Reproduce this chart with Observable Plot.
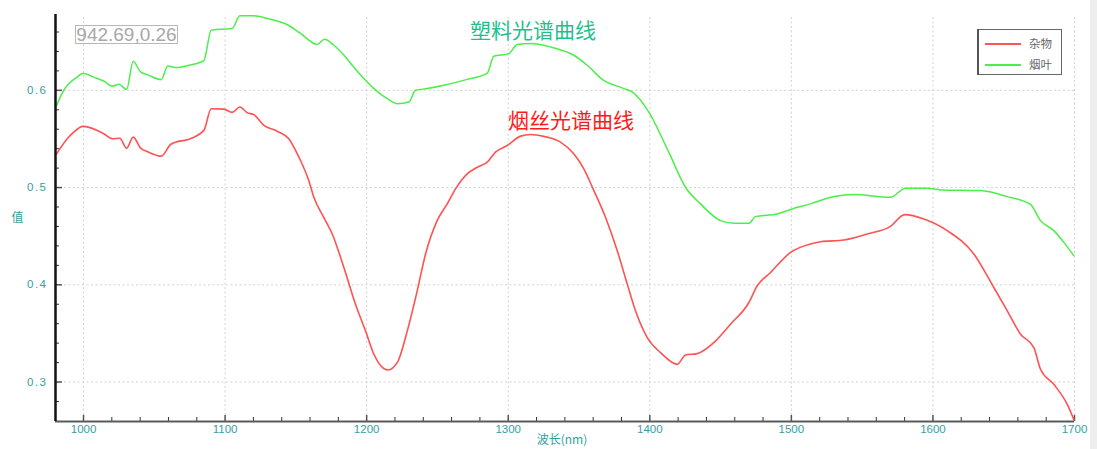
<!DOCTYPE html>
<html>
<head>
<meta charset="utf-8">
<script src="https://cdn.jsdelivr.net/npm/d3@7"></script>
<script src="https://cdn.jsdelivr.net/npm/@observablehq/plot@0.6"></script>
<style>
  html, body { margin: 0; padding: 0; background: #fff; }
  #wrap { position: relative; width: 1097px; height: 449px; overflow: hidden; background: #fff; }
  #wrap svg g[aria-label="y-axis tick label"] text { letter-spacing: 1.5px; }
  .readout { position: absolute; left: 75px; top: 25px; width: 101px; height: 17px; border: 1.5px solid #b8b8b8;
    font: 19px "Liberation Sans", Arial, sans-serif; color: #a8a8a8; line-height: 17px; text-align: center; white-space: nowrap; }
  .legend { position: absolute; left: 977px; top: 29px; width: 82px; height: 44px; border: 1.5px solid #666; border-left: 2.5px solid #555;
    font: 11.5px "Noto Sans CJK SC", sans-serif; color: #666; }
  .legend .row { position: absolute; left: 6px; height: 14px; }
  .legend .sw { position: absolute; left: 0; top: 6px; width: 36px; height: 1.5px; }
  .legend .lb { position: absolute; left: 44px; top: -2px; white-space: nowrap; }
  .strip { position: absolute; left: 1090px; top: 0; width: 7px; height: 449px; background: #eeeeee; }
</style>
</head>
<body>
<div id="wrap"></div>
<script>
// ---- data ----
const seriesNames = ["杂物", "烟叶"];
const seriesColors = ["#ff5252", "#4cee4c"];

const redNm = [981,988.5,993.1,999.5,1009.7,1014.3,1020.3,1025.6,1030.4,1035.1,1040.3,1046.1,1054.9,1061.5,1065,1073.2,1085,1090.2,1099.1,1105,1110.4,1115.6,1120.3,1127.4,1136.8,1145,1151,1153.3,1159.1,1162.7,1169.7,1175.7,1183.9,1192.1,1199.2,1205.1,1215,1221.6,1228.7,1235.7,1241.6,1249.8,1256.9,1262.8,1271,1278.1,1285.2,1291,1299.3,1308.7,1315.7,1327.5,1336.9,1346.3,1353.4,1360.5,1368.7,1377,1384.1,1389.9,1398.2,1407.6,1419.4,1425.2,1433.5,1445.2,1457,1470,1475.9,1485.3,1499.4,1513.5,1520.6,1537.1,1553.6,1570,1580,1593.6,1610.1,1628.9,1643,1652.5,1661.9,1671.3,1676,1685.4,1694.9,1699.5];
const redVal = [0.5347,0.5502,0.557,0.5629,0.5588,0.5554,0.5502,0.5508,0.5405,0.5519,0.5405,0.5364,0.5323,0.5443,0.5467,0.5492,0.5588,0.5811,0.5807,0.5773,0.5828,0.577,0.575,0.5639,0.558,0.5502,0.5347,0.5278,0.5072,0.49,0.4694,0.4523,0.4178,0.3801,0.3526,0.3286,0.3124,0.3199,0.3526,0.3938,0.4317,0.466,0.4832,0.4987,0.5141,0.5209,0.5261,0.5364,0.5433,0.5529,0.5546,0.5519,0.5467,0.5347,0.5193,0.4969,0.4694,0.4351,0.4007,0.3732,0.3457,0.3302,0.3182,0.3278,0.3292,0.3405,0.3595,0.3818,0.399,0.4127,0.4333,0.442,0.4443,0.4461,0.4523,0.4601,0.4722,0.4677,0.4557,0.4317,0.3972,0.3732,0.3492,0.3354,0.3131,0.2976,0.277,0.2615];

const greenNm = [981,986,995.5,999.5,1009.7,1014.3,1020.3,1024.9,1030.4,1035.1,1040.3,1045,1054.9,1059.5,1065,1074.4,1085,1090.2,1105,1110.4,1120.3,1129.8,1145,1153.3,1165.1,1170.2,1176.8,1185.1,1189.8,1198,1205.1,1214.5,1221.6,1229.8,1234.5,1242.8,1254.5,1271,1285.2,1289.8,1300.4,1306.4,1315.7,1325.2,1329.9,1346.3,1355.8,1366.4,1381.7,1387.6,1399.3,1413.4,1425.2,1435.8,1450,1459.4,1470,1474.7,1490,1504.1,1513.5,1525.3,1544.1,1570,1580.6,1596,1605.4,1633.6,1652.5,1669,1676,1685.4,1692.5,1699.5];
const greenVal = [0.5845,0.600,0.6137,0.6172,0.6121,0.6096,0.6044,0.6062,0.601,0.630,0.6189,0.6162,0.611,0.625,0.6234,0.6258,0.6306,0.6619,0.6636,0.6766,0.6766,0.6739,0.6667,0.6585,0.6471,0.6526,0.6464,0.6343,0.6258,0.6121,0.6018,0.5914,0.5863,0.588,0.600,0.6018,0.6052,0.6113,0.6178,0.635,0.6378,0.6471,0.6481,0.6464,0.6446,0.6361,0.6258,0.6113,0.6018,0.5983,0.5776,0.5364,0.5003,0.4832,0.466,0.4632,0.4632,0.4701,0.4729,0.4797,0.4832,0.489,0.4928,0.49,0.4993,0.4993,0.4976,0.4969,0.4907,0.4825,0.466,0.4557,0.4436,0.4299];

const xDomain = [980.2, 1700];
const yDomain = [0.2594, 0.678];
const xMajor = [1000, 1100, 1200, 1300, 1400, 1500, 1600, 1700];
const xMinor = [1020,1040,1060,1080,1120,1140,1160,1180,1220,1240,1260,1280,1320,1340,1360,1380,1420,1440,1460,1480,1520,1540,1560,1580,1620,1640,1660,1680];
const yMajor = [0.3, 0.4, 0.5, 0.6];
const yMinor = [0.28,0.32,0.34,0.36,0.38,0.42,0.44,0.46,0.48,0.52,0.54,0.56,0.58,0.62,0.64,0.66];

const annoText = ["塑料光谱曲线", "烟丝光谱曲线"];
const annoNm = [1317.5, 1344.4];
const annoVal = [0.6608, 0.568];
const annoColor = ["#1fc08e", "#ff1a1a"];

const xTitle = "波长(nm)";
const yTitle = "值";
const readout = "942.69,0.26";

// ---- tables ----
const red = redNm.map((nm, i) => ({nm, v: redVal[i]}));
const green = greenNm.map((nm, i) => ({nm, v: greenVal[i]}));
const annos = annoText.map((t, i) => ({t, nm: annoNm[i], v: annoVal[i], c: annoColor[i]}));

const W = 1097, H = 449, mL = 55, mR = 23, mT = 14, mB = 28;
const frameW = W - mL - mR, frameH = H - mT - mB;
const teal = "#35a0a0";

const chart = Plot.plot({
  width: W, height: H,
  marginLeft: mL, marginRight: mR, marginTop: mT, marginBottom: mB,
  style: {background: "transparent", fontFamily: "'Liberation Sans', Arial, sans-serif", fontSize: "11.5px", overflow: "visible"},
  x: {domain: xDomain, label: null},
  y: {domain: yDomain, label: null},
  marks: [
    Plot.gridX(xMajor, {stroke: "#d2d2d2", strokeOpacity: 1, strokeDasharray: "2,2.5", insetTop: 3}),
    Plot.gridY(yMajor, {stroke: "#d2d2d2", strokeOpacity: 1, strokeDasharray: "2,2.5"}),
    Plot.ruleX(xMajor, {stroke: "#555", strokeWidth: 1.5, insetTop: frameH - 6}),
    Plot.ruleX(xMinor, {stroke: "#333", insetTop: frameH - 4}),
    Plot.ruleY(yMajor, {stroke: "#555", strokeWidth: 1.5, insetRight: frameW - 7}),
    Plot.ruleY(yMinor, {stroke: "#333", insetRight: frameW - 4}),
    Plot.line(green, {x: "nm", y: "v", stroke: seriesColors[1], strokeWidth: 1.5, curve: "monotone-x"}),
    Plot.line(red, {x: "nm", y: "v", stroke: seriesColors[0], strokeWidth: 1.6, curve: "monotone-x"}),
    Plot.ruleY([yDomain[0]], {stroke: "#5a5a5a", strokeWidth: 2}),
    Plot.ruleX([xDomain[0]], {stroke: "#111", strokeWidth: 2.5}),
    Plot.axisX(xMajor, {tickSize: 0, tickPadding: 3, fill: teal, label: null, tickFormat: d => String(d)}),
    Plot.axisY(yMajor, {tickSize: 0, tickPadding: 8, fill: teal, label: null, tickFormat: d => d.toFixed(1)}),
    Plot.text(annos, {x: "nm", y: "v", text: "t", fill: "c", fontSize: 21, fontFamily: "'Noto Sans CJK SC', sans-serif"}),
    Plot.text([xTitle], {frameAnchor: "bottom", dy: 22, dx: -3, fill: teal, fontSize: 12, fontFamily: "'Noto Sans CJK SC', sans-serif"}),
    Plot.text([yTitle], {frameAnchor: "left", dx: -44, fill: teal, fontSize: 12, fontFamily: "'Noto Sans CJK SC', sans-serif"})
  ]
});

const wrap = document.getElementById("wrap");
wrap.appendChild(chart);

const ro = document.createElement("div");
ro.className = "readout";
ro.textContent = readout;
wrap.appendChild(ro);

const lg = document.createElement("div");
lg.className = "legend";
seriesNames.forEach((name, i) => {
  const row = document.createElement("div");
  row.className = "row";
  row.style.top = (7 + i * 21) + "px";
  const sw = document.createElement("div");
  sw.className = "sw";
  sw.style.background = seriesColors[i];
  const lb = document.createElement("div");
  lb.className = "lb";
  lb.textContent = name;
  row.appendChild(sw); row.appendChild(lb);
  lg.appendChild(row);
});
wrap.appendChild(lg);

const strip = document.createElement("div");
strip.className = "strip";
wrap.appendChild(strip);
</script>
</body>
</html>
